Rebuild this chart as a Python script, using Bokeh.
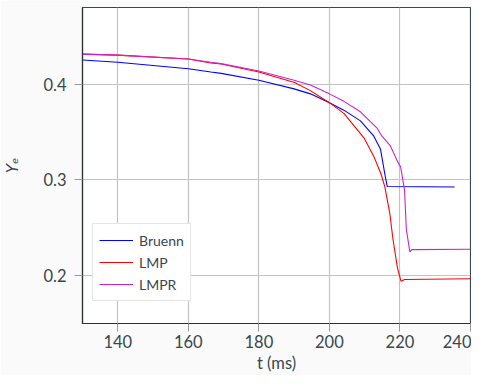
from bokeh.plotting import figure
from bokeh.models import Range1d, Legend, LegendItem, FixedTicker
from bokeh.embed import file_html
from bokeh.resources import INLINE

# Data
bruenn_t = [130, 140, 160, 166.4, 169.3, 180, 190, 194.6, 200, 204.1, 208.8, 212.6, 214.5, 215.7, 216.4, 235.5]
bruenn_y = [0.4252, 0.4228, 0.4160, 0.4126, 0.4112, 0.4041, 0.3950, 0.3898, 0.3806, 0.3728, 0.3616, 0.3456, 0.3319, 0.3064, 0.2930, 0.2926]

lmp_t = [130, 140, 160, 166.4, 169.3, 180, 190.1, 194.6, 200, 204.1, 209.8, 212.7, 214.6, 215.7, 217.1, 218.0, 219.3, 220.3, 221.3, 240]
lmp_y = [0.4313, 0.4303, 0.4262, 0.4221, 0.4210, 0.4126, 0.4017, 0.3932, 0.3806, 0.3694, 0.3439, 0.3235, 0.3064, 0.2930, 0.2656, 0.2385, 0.2078, 0.1942, 0.1960, 0.1968]

lmpr_t = [130, 140, 160, 166.4, 169.3, 180, 190, 194.6, 200, 204.1, 208.8, 213.5, 214.9, 217.3, 219.2, 220.2, 221.3, 221.8, 222.8, 223.4, 240]
lmpr_y = [0.4313, 0.4303, 0.4262, 0.4228, 0.4214, 0.4136, 0.4040, 0.3990, 0.3898, 0.3820, 0.3711, 0.3541, 0.3456, 0.3354, 0.3201, 0.3133, 0.2895, 0.2487, 0.2248, 0.2272, 0.2276]

x_ticks = [140, 160, 180, 200, 220, 240]
y_ticks = [0.2, 0.3, 0.4]

FONT = "Lato"
TXT = "#37474f"

p = figure(width=471, height=375, output_backend="svg", toolbar_location=None,
           x_range=Range1d(130, 240), y_range=Range1d(0.15, 0.48),
           min_border_left=82, min_border_right=1, min_border_top=7, min_border_bottom=46,
           background_fill_color="white", border_fill_color="#fafafa")

l_b = p.line(bruenn_t, bruenn_y, line_color="#0000ff", line_width=1.1)
l_m = p.line(lmp_t, lmp_y, line_color="#ff0000", line_width=1.1)
l_r = p.line(lmpr_t, lmpr_y, line_color="#cc22cc", line_width=1.1)

legend = Legend(items=[LegendItem(label="Bruenn", renderers=[l_b]),
                       LegendItem(label="LMP", renderers=[l_m]),
                       LegendItem(label="LMPR", renderers=[l_r])],
                location=(10, 22))
legend.label_text_font = FONT
legend.label_text_font_size = "14px"
legend.label_text_color = TXT
legend.border_line_color = "#cccccc"
legend.background_fill_color = "white"
legend.background_fill_alpha = 1
legend.glyph_width = 34
legend.glyph_height = 20
legend.label_height = 20
legend.label_standoff = 6
legend.spacing = 2
legend.padding = 6
legend.margin = 0
p.add_layout(legend, "center")

p.xaxis.ticker = FixedTicker(ticks=x_ticks)
p.yaxis.ticker = FixedTicker(ticks=y_ticks)
for ax in (p.xaxis, p.yaxis):
    ax.major_label_text_font = FONT
    ax.major_label_text_font_size = "16.5px"
    ax.major_label_text_color = TXT
    ax.axis_label_text_font = FONT
    ax.axis_label_text_font_size = "16.5px"
    ax.axis_label_text_color = TXT
    ax.axis_label_text_font_style = "normal"
    ax.major_tick_out = 8
    ax.major_tick_in = 0
    ax.minor_tick_line_color = None
    ax.major_tick_line_color = "#999999"
    ax.axis_line_color = "#263238"
    ax.axis_line_width = 1.2
p.xaxis.major_label_standoff = 3
p.yaxis.major_label_standoff = 8
p.xaxis.axis_label = "t (ms)"
p.yaxis.axis_label = "Yₑ"
p.yaxis.axis_label_text_font = "DejaVu Sans"
p.yaxis.axis_label_text_font_size = "15px"
p.yaxis.axis_label_text_font_style = "italic"
p.xaxis.axis_label_standoff = 2
p.yaxis.axis_label_standoff = 18

p.grid.grid_line_color = "#c4c4c4"
p.grid.grid_line_width = 1.2
p.outline_line_color = "#37474f"
p.outline_line_width = 1.2

open("out.html", "w").write(file_html(p, INLINE))
